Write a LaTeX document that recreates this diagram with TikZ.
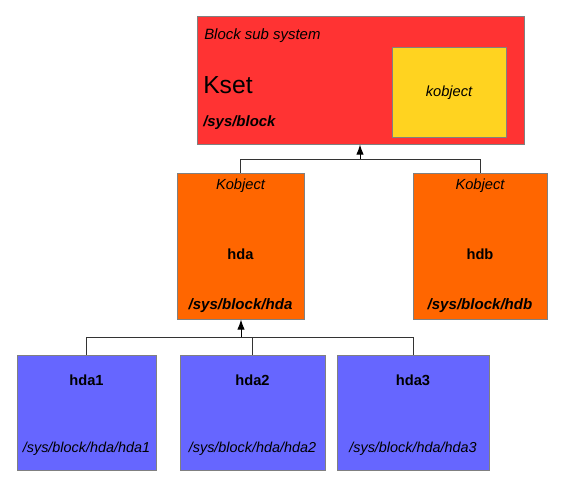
\documentclass[tikz,border=0pt]{standalone}
\usepackage{fontspec}
\setmainfont{Liberation Sans}
\usetikzlibrary{arrows.meta}
\definecolor{cred}{HTML}{FF3333}
\definecolor{cyel}{HTML}{FFD320}
\definecolor{corg}{HTML}{FF6600}
\definecolor{cblu}{HTML}{6666FF}
\definecolor{cbord}{HTML}{808080}
\begin{document}
\begin{tikzpicture}[x=0.75pt,y=-0.75pt,
  box/.style={draw=cbord,line width=0.75pt,inner sep=0pt},
  lbl/.style={inner sep=0pt,font=\fontsize{11}{13}\selectfont},
  conn/.style={draw=black!80,line width=0.75pt},
  arr/.style={conn,draw=black,-{Latex[length=7.5pt,width=5.5pt]}}]
\useasboundingbox (0,0) rectangle (573,480);
% boxes
\node[box,fill=cred,minimum width=327*0.75pt,minimum height=128*0.75pt] (kset) at (360.5,80) {};
\node[box,fill=cyel,minimum width=114*0.75pt,minimum height=90*0.75pt] (kobj) at (449,92) {};
\node[box,fill=corg,minimum width=127*0.75pt,minimum height=146*0.75pt] (hda) at (240.5,246) {};
\node[box,fill=corg,minimum width=134*0.75pt,minimum height=146*0.75pt] (hdb) at (480,246) {};
\node[box,fill=cblu,minimum width=139*0.75pt,minimum height=115*0.75pt] (hda1) at (86.5,412.5) {};
\node[box,fill=cblu,minimum width=145*0.75pt,minimum height=115*0.75pt] (hda2) at (252.5,412.5) {};
\node[box,fill=cblu,minimum width=152*0.75pt,minimum height=115*0.75pt] (hda3) at (413,412.5) {};
% texts
\node[lbl,anchor=west,font=\fontsize{11.2}{13}\selectfont\itshape] (t1) at (204,35.5) {Block sub system};
\node[lbl,anchor=west,font=\fontsize{18.5}{22}\selectfont] (t2) at (203,85) {Kset};
\node[lbl,anchor=west,font=\fontsize{11.2}{13}\selectfont\bfseries\itshape] (t3) at (203,123) {/sys/block};
\node[lbl,font=\fontsize{11}{13}\selectfont\itshape] (t4) at (449,93) {kobject};
\node[lbl,font=\fontsize{11}{13}\selectfont\itshape] (t5) at (240.5,186) {Kobject};
\node[lbl,font=\fontsize{11}{13}\selectfont\bfseries] (t6) at (240.5,254) {hda};
\node[lbl,font=\fontsize{11.3}{13}\selectfont\bfseries\itshape] (t7) at (240.5,305.5) {/sys/block/hda};
\node[lbl,font=\fontsize{11}{13}\selectfont\itshape] (t8) at (480,186) {Kobject};
\node[lbl,font=\fontsize{11}{13}\selectfont\bfseries] (t9) at (480,254) {hdb};
\node[lbl,font=\fontsize{11.3}{13}\selectfont\bfseries\itshape] (t10) at (480,305.5) {/sys/block/hdb};
\node[lbl,font=\fontsize{11}{13}\selectfont\bfseries] (t11) at (86.5,380.5) {hda1};
\node[lbl,font=\fontsize{10.8}{13}\selectfont\itshape] (t12) at (86.5,448.5) {/sys/block/hda/hda1};
\node[lbl,font=\fontsize{11}{13}\selectfont\bfseries] (t13) at (252.5,380.5) {hda2};
\node[lbl,font=\fontsize{10.8}{13}\selectfont\itshape] (t14) at (252.5,448.5) {/sys/block/hda/hda2};
\node[lbl,font=\fontsize{11}{13}\selectfont\bfseries] (t15) at (413,380.5) {hda3};
\node[lbl,font=\fontsize{10.8}{13}\selectfont\itshape] (t16) at (413,448.5) {/sys/block/hda/hda3};
% connectors
\coordinate (j1) at (360,159);
\coordinate (j2) at (241,337);
\draw[conn] (hda.north) |- (j1);
\draw[conn] (hdb.north) |- (j1);
\draw[arr] (j1) -- (kset.south -| j1);
\draw[conn] (hda1.north) |- (j2);
\draw[conn] (hda3.north) |- (j2);
\draw[conn] (hda2.north) |- (j2);
\draw[arr] (j2) -- (hda.south -| j2);
\end{tikzpicture}
\end{document}
